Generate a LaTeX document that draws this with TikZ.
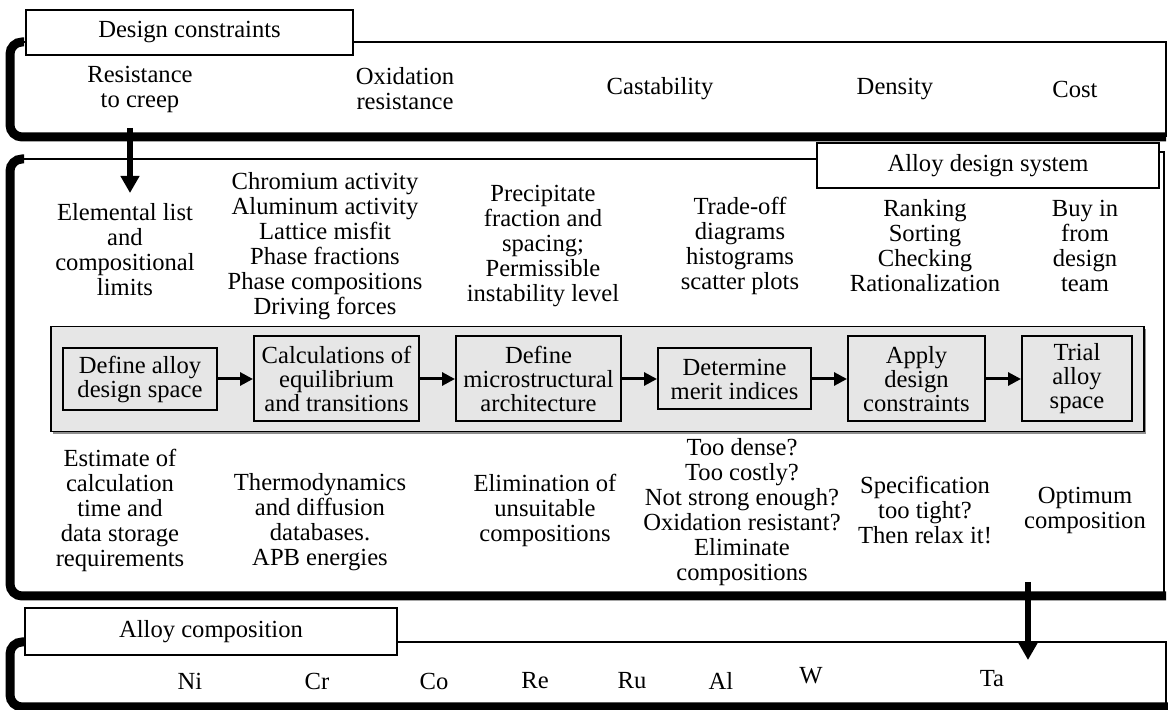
\documentclass[tikz,border=0pt]{standalone}
\usepackage{fontspec}
\setmainfont{Liberation Serif}
\usepackage{tikz}
\usetikzlibrary{arrows.meta,positioning,fit,backgrounds,shadows}
\usepackage{xcolor}
\definecolor{bandgray}{RGB}{230,230,230}
\tikzset{
  stepbox/.style={draw=black, line width=1pt, fill=bandgray, align=center, inner sep=2pt, font=\fontsize{12.3}{12}\selectfont},
  tabbox/.style={draw=black, line width=1pt, fill=white, align=center, inner sep=2pt, font=\fontsize{12.3}{12.5}\selectfont},
  note/.style={align=center, inner sep=0pt, font=\fontsize{12.3}{12.5}\selectfont},
  band/.style={draw=black, line width=0.8pt, fill=bandgray, inner xsep=5.5pt, inner ysep=4.5pt,
    drop shadow={shadow xshift=1pt, shadow yshift=-1.2pt, fill=black!55, opacity=0.8}},
  thinedge/.style={line width=1.4pt},
  thickedge/.style={line width=4.5pt, rounded corners=6pt},
  arrow/.style={-{Triangle[length=6.5pt,width=6.5pt]}, line width=1.5pt},
  bigarrow/.style={-{Triangle[length=8.5pt,width=9pt]}, line width=3.3pt}
}

\begin{document}
\begin{tikzpicture}[x=0.5pt, y=-0.5pt, node distance=17.5pt]
\useasboundingbox (0,0) rectangle (1168,710);
% outer frames
\draw[thinedge] (20,42) -- (1166,42) -- (1166,137);
\draw[thickedge] (24,42) -- (10,42) -- (10,137) -- (1166,137);
\draw[thinedge] (20,159) -- (817,159);
\draw[thinedge] (1159,152) -- (1164,152) -- (1164,596);
\draw[thickedge] (24,159) -- (10,159) -- (10,596) -- (1166,596);
\draw[thinedge] (20,642) -- (1166,642) -- (1166,707);
\draw[thickedge] (24,642) -- (10,642) -- (10,707) -- (1168,707);
\node[tabbox, minimum width=163.5pt, minimum height=22.5pt] (dcons) at (189.5,32.5) {Design constraints};
\node[tabbox, minimum width=171pt, minimum height=22.5pt] (ads) at (988,165.5) {Alloy design system};
\node[tabbox, minimum width=186pt, minimum height=23.5pt] (acomp) at (211,631.5) {Alloy composition};
% constraints
\node[note] (resist) at (140,89) {Resistance\\to creep};
\node[note] (oxid) at (405,89) {Oxidation\\resistance};
\node[note] (cast) at (660,89) {Castability};
\node[note] (dens) at (895,89) {Density};
\node[note] (cost) at (1075,89) {Cost};
% design steps
\node[stepbox, minimum width=77pt, minimum height=31pt] (space) at (140,379) {Define alloy\\design space};
\node[stepbox, right=of space, minimum width=82.5pt, minimum height=42.5pt] (calc) {Calculations of\\equilibrium\\and transitions};
\node[stepbox, right=of calc, minimum width=82.5pt, minimum height=42.5pt] (micro) {Define\\microstructural\\architecture};
\node[stepbox, right=of micro, minimum width=76.5pt, minimum height=30.5pt] (merit) {Determine\\merit indices};
\node[stepbox, right=of merit, minimum width=68.5pt, minimum height=42.5pt] (apply) {Apply\\design\\constraints};
\node[stepbox, right=of apply, minimum width=55pt, minimum height=42.5pt] (trial) {Trial\\alloy\\space};
\begin{scope}[on background layer]
\node[band, fit=(space)(calc)(micro)(merit)(apply)(trial)] (chain) {};
\end{scope}
\draw[arrow] (space) -- (calc);
\draw[arrow] (calc) -- (micro);
\draw[arrow] (micro) -- (merit);
\draw[arrow] (merit) -- (apply);
\draw[arrow] (apply) -- (trial);
% inputs above
\node[note] (elem) at (125,250) {Elemental list\\and\\compositional\\limits};
\node[note] (chrom) at (325,246) {Chromium activity\\Aluminum activity\\Lattice misfit\\Phase fractions\\Phase compositions\\Driving forces};
\node[note] (precip) at (543,246) {Precipitate\\fraction and\\spacing;\\Permissible\\instability level};
\node[note] (trade) at (740,246) {Trade-off\\diagrams\\histograms\\scatter plots};
\node[note] (rank) at (925,246) {Ranking\\Sorting\\Checking\\Rationalization};
\node[note] (buy) at (1085,246) {Buy in\\from\\design\\team};
% notes below
\node[note] (estim) at (120,510) {Estimate of\\calculation\\time and\\data storage\\requirements};
\node[note] (thermo) at (320,522) {Thermodynamics\\and diffusion\\databases.\\APB energies};
\node[note] (elim) at (545,510) {Elimination of\\unsuitable\\compositions};
\node[note] (dense) at (742,512) {Too dense?\\Too costly?\\Not strong enough?\\Oxidation resistant?\\Eliminate\\compositions};
\node[note] (spec) at (925,510) {Specification\\too tight?\\Then relax it!};
\node[note] (optim) at (1085,510) {Optimum\\composition};
% elements
\node[note] (ni) at (190,681) {Ni};
\node[note] (cr) at (317,681) {Cr};
\node[note] (co) at (434,681) {Co};
\node[note] (re) at (535,681) {Re};
\node[note] (ru) at (632,681) {Ru};
\node[note] (al) at (721,681) {Al};
\node[note] (w) at (811,676) {W};
\node[note] (ta) at (992,679) {Ta};
% flow between frames
\coordinate (creepout) at (130,128);
\coordinate (elemin) at (130,193);
\coordinate (trialout) at (1028,582);
\coordinate (compin) at (1028,660);
\draw[bigarrow] (creepout) -- (elemin);
\draw[bigarrow] (trialout) -- (compin);
\end{tikzpicture}
\end{document}
